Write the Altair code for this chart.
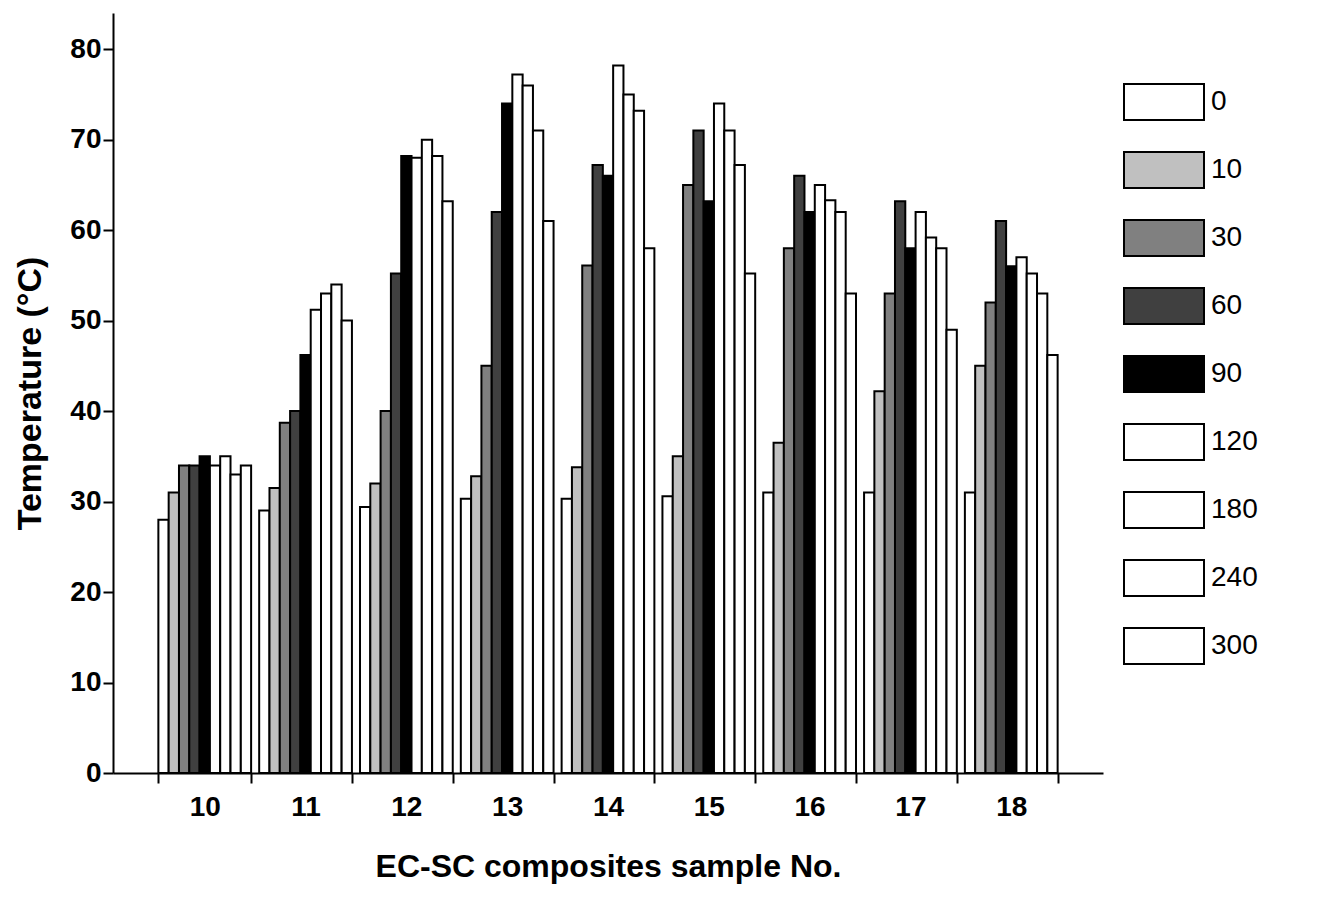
import pandas as pd
import altair as alt

samples = ["10", "11", "12", "13", "14", "15", "16", "17", "18"]
times = ["0", "10", "30", "60", "90", "120", "180", "240", "300"]
fills = ["#ffffff", "#c0c0c0", "#808080", "#404040", "#000000",
         "#ffffff", "#ffffff", "#ffffff", "#ffffff"]

t0 = [28.0, 29.0, 29.4, 30.3, 30.3, 30.6, 31.0, 31.0, 31.0]
t10 = [31.0, 31.5, 32.0, 32.8, 33.8, 35.0, 36.5, 42.2, 45.0]
t30 = [34.0, 38.7, 40.0, 45.0, 56.1, 65.0, 58.0, 53.0, 52.0]
t60 = [34.0, 40.0, 55.2, 62.0, 67.2, 71.0, 66.0, 63.2, 61.0]
t90 = [35.0, 46.2, 68.2, 74.0, 66.0, 63.2, 62.0, 58.0, 56.0]
t120 = [34.0, 51.2, 68.0, 77.2, 78.2, 74.0, 65.0, 62.0, 57.0]
t180 = [35.0, 53.0, 70.0, 76.0, 75.0, 71.0, 63.3, 59.2, 55.2]
t240 = [33.0, 54.0, 68.2, 71.0, 73.2, 67.2, 62.0, 58.0, 53.0]
t300 = [34.0, 50.0, 63.2, 61.0, 58.0, 55.2, 53.0, 49.0, 46.2]
series = [t0, t10, t30, t60, t90, t120, t180, t240, t300]

rows = []
for t, vals in zip(times, series):
    for s, v in zip(samples, vals):
        rows.append({"sample": s, "time": t, "temp": v})
df = pd.DataFrame(rows)

font = "Liberation Sans"

chart = alt.Chart(df).mark_bar(stroke="black", strokeWidth=2).encode(
    x=alt.X("sample:N", sort=samples, title="EC-SC composites sample No.",
            scale=alt.Scale(paddingInner=0.08, paddingOuter=0.45),
            axis=alt.Axis(labelAngle=0, labelFontSize=28, labelFontWeight="bold",
                          titleFontSize=32, titleFontWeight="bold", titlePadding=30,
                          labelPadding=10, domainColor="black", domainWidth=2,
                          tickColor="black", tickWidth=2, tickSize=10, tickBand="extent")),
    xOffset=alt.XOffset("time:N", sort=times),
    y=alt.Y("temp:Q", title="Temperature (°C)",
            scale=alt.Scale(domain=[0, 84], nice=False),
            axis=alt.Axis(values=[0, 10, 20, 30, 40, 50, 60, 70, 80], grid=False,
                          labelFontSize=28, labelFontWeight="bold",
                          titleFontSize=34, titleFontWeight="bold", titlePadding=22,
                          domainColor="black", domainWidth=2,
                          tickColor="black", tickWidth=2, tickSize=10)),
    color=alt.Color("time:N", sort=times, title=None,
                    scale=alt.Scale(domain=times, range=fills),
                    legend=alt.Legend(orient="none", legendX=1010, legendY=48,
                                      symbolType="M-1,-0.45H1V0.45H-1Z",
                                      symbolSize=6400, symbolStrokeColor="black",
                                      symbolStrokeWidth=2, symbolOpacity=1,
                                      labelFontSize=28, labelFont=font,
                                      rowPadding=5, labelOffset=6)),
).properties(
    width=990, height=760
).configure(
    font=font
).configure_view(
    stroke=None
)

chart.save("out.html", embed_options={"renderer": "svg", "actions": False})
